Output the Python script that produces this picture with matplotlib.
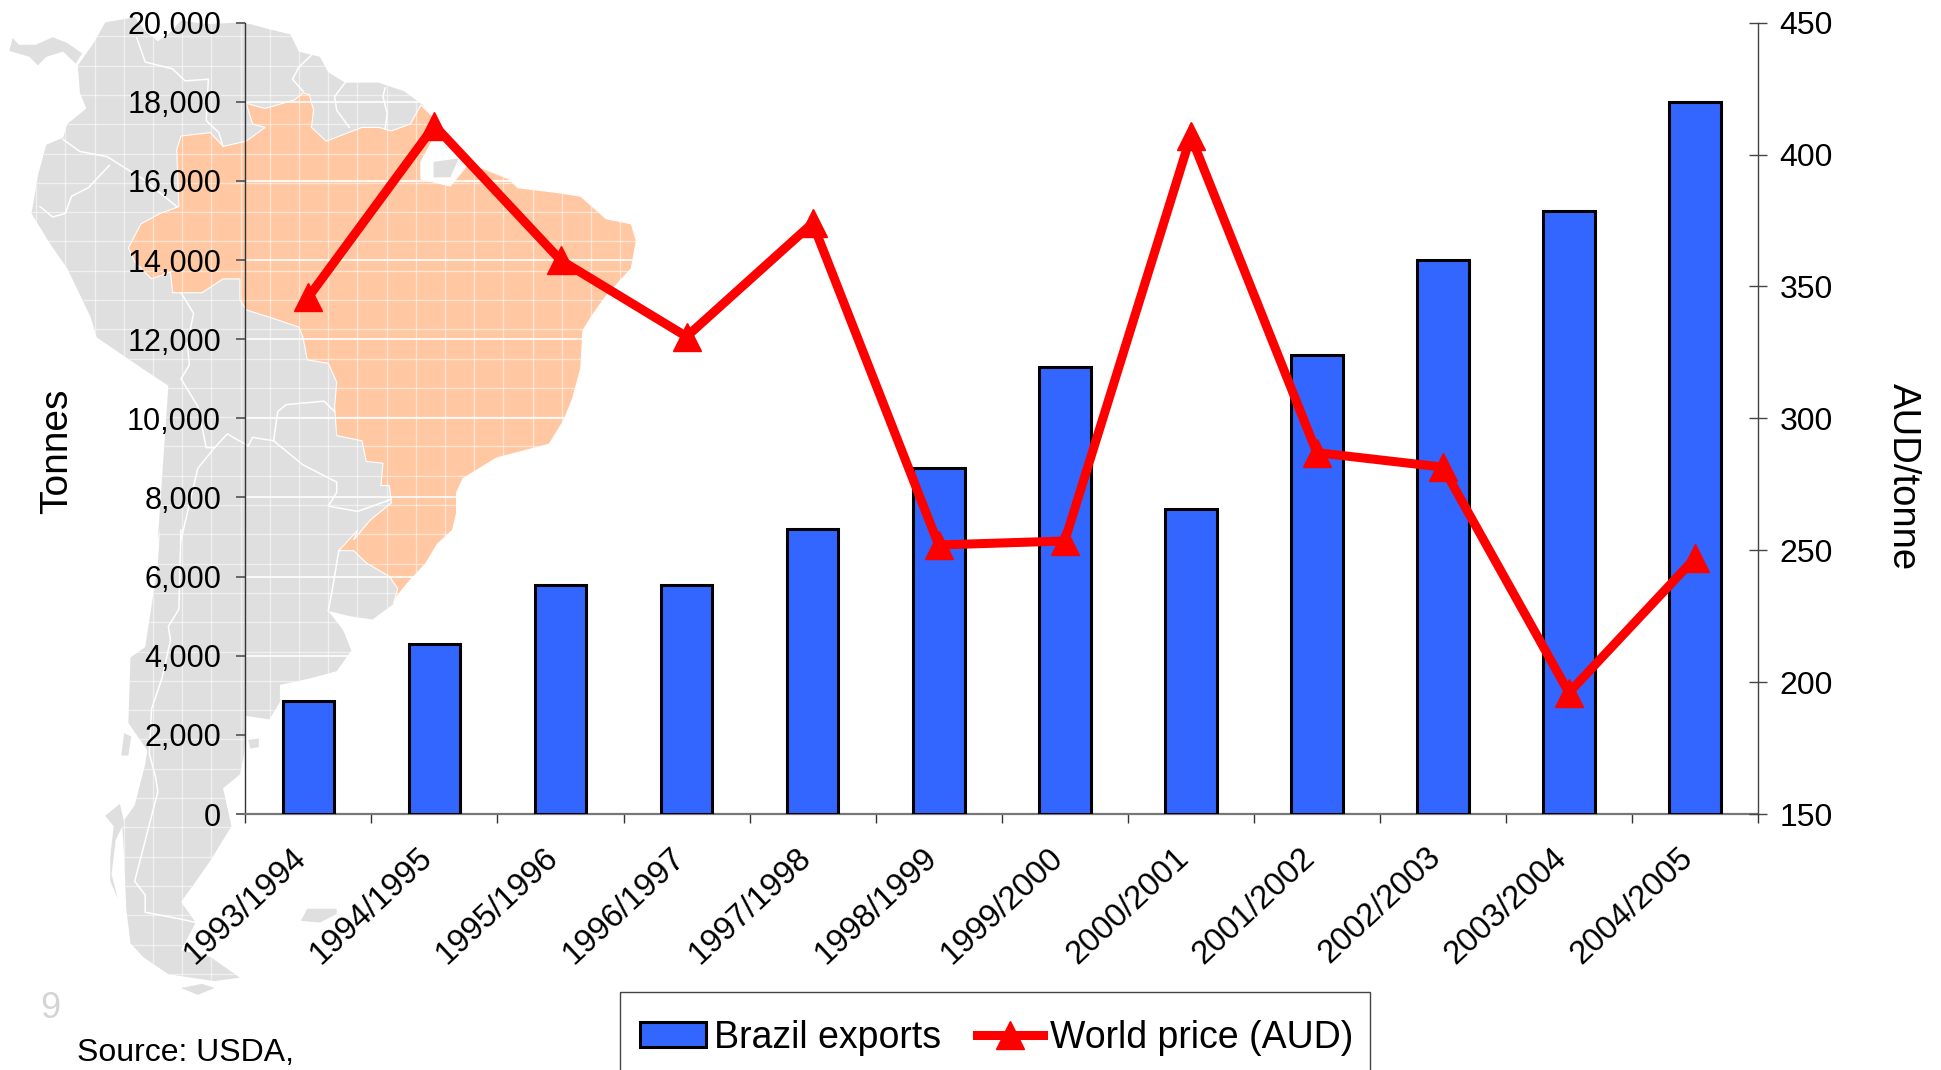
import numpy as np
import matplotlib
matplotlib.use("Agg")
import matplotlib.pyplot as plt
from matplotlib.patches import Polygon, Rectangle
from matplotlib.collections import LineCollection
from matplotlib.transforms import ScaledTranslation

plt.rcParams['font.family'] = ['Liberation Sans', 'DejaVu Sans']

seasons = ["1993/1994", "1994/1995", "1995/1996", "1996/1997", "1997/1998", "1998/1999",
           "1999/2000", "2000/2001", "2001/2002", "2002/2003", "2003/2004", "2004/2005"]
exports = [2850, 4300, 5800, 5800, 7200, 8750, 11300, 7700, 11600, 14000, 15250, 18000]
price = [346, 411, 360, 331, 374, 252, 253.5, 407, 287, 281.5, 196, 247]

# map outlines (u = upper half, l = lower half)
land_u = [(185,190),(225,120),(250,65),(320,50),(345,90),(375,120),(400,100),(430,60),(490,70),(580,65),
          (640,85),(690,100),(710,150),(760,165),(780,210),(820,240),(900,240),(960,265),(1000,300),(1030,340),
          (1040,380),(1000,470),(1000,520),(1070,540),(1110,480),(1150,490),(1210,520),(1230,545),(1330,560),
          (1380,570),(1440,635),(1500,650),(1512,700),(1500,780),(1440,860),(1405,920),(1385,960),(1380,1070),
          (1360,1160),(1340,1220),(1305,1290),(1180,1330),(1100,1390),(1085,1430),(1085,1490),(1075,1540)]
land_l = [(1040,40),(1010,100),(975,145),(945,190),(935,215),(885,260),(830,250),(780,235),(815,290),(835,350),
          (800,410),(740,430),(665,450),(665,500),(640,550),(585,540),(580,650),(570,710),(530,750),(550,860),
          (500,960),(460,1030),(430,1080),(465,1140),(430,1220),(500,1240),(570,1300),(510,1310),(400,1290),
          (340,1240),(310,1200),(300,1100),(295,950),(290,850),(320,800),(345,680),(350,640),(305,560),(310,370),
          (345,340),(375,100),(380,0)]
land_u2 = [(375,1568),(400,1120),(350,1080),(230,980),(215,920),(160,780),(120,710),(75,620),(90,510),(110,420),
           (150,400),(160,360),(205,315),(190,270)]
panama_u = [(22,148),(30,110),(45,130),(85,130),(125,108),(160,125),(195,155),(180,185),(150,150),(110,165),
            (90,190),(70,165)]
marajo_u = [(1030,470),(1090,460),(1070,515),(1030,515)]
falkland_l = [(715,1135),(730,1100),(800,1100),(800,1115),(760,1140)]
isle1_l = [(295,590),(312,600),(305,655),(288,655)]
isle2_l = [(590,610),(615,605),(615,630),(595,635)]
isle3_l = [(430,1330),(480,1318),(510,1330),(470,1350)]
isle4_l = [(250,830),(285,795),(295,850),(275,900),(265,1000),(280,1070),(262,1020),(262,950),(270,860)]

brazil_u = [(585,300),(630,315),(700,290),(720,270),(735,275),(745,320),(740,370),(775,410),(860,370),(900,370),
            (930,380),(975,360),(1000,305),(1030,340),(1040,380),(1000,470),(1000,520),(1070,540),(1110,480),
            (1150,490),(1210,520),(1230,545),(1330,560),(1380,570),(1440,635),(1500,650),(1512,700),(1500,780),
            (1440,860),(1405,920),(1385,960),(1380,1070),(1360,1160),(1340,1220),(1305,1290),(1180,1330),
            (1100,1390),(1085,1430),(1085,1490),(1075,1540)]
brazil_l = [(1040,40),(1010,100),(975,145),(945,190),(935,215),(945,170),(925,135),(870,95),(840,60),(805,60),(850,0)]
brazil_u2 = [(840,1568),(880,1510),(930,1460),(925,1410),(905,1410),(910,1345),(870,1340),(860,1280),(800,1265),
             (795,1180),(800,1110),(780,1055),(730,1045),(720,980),(710,950),(650,925),(585,900),(570,870),(570,810),
             (530,810),(480,850),(410,850),(405,790),(360,810),(320,760),(305,720),(335,650),(380,620),(425,600),
             (420,435),(430,395),(500,385),(530,425),(585,410),(630,370),(600,360)]

borders_u = [[(325,110),(345,180),(410,200),(440,235),(495,230),(490,350),(520,385),(530,425)],
             [(740,160),(710,195),(695,230),(720,265)],
             [(820,240),(795,280),(800,320),(830,370)],
             [(915,255),(910,280),(920,330),(915,375)],
             [(150,405),(190,440),(255,455),(300,490),(340,520),(420,600)],
             [(95,600),(125,630),(155,620),(170,570),(210,545),(260,480)],
             [(430,850),(460,910),(445,1000),(450,1060),(430,1100),(470,1180),(490,1300),(510,1300),(540,1260),
              (590,1295),(600,1270),(650,1280),(660,1195),(680,1175),(770,1165),(795,1195)],
             [(650,1280),(720,1350),(800,1400),(800,1430),(780,1470),(850,1485),(930,1450)],
             [(510,1300),(470,1360),(430,1568)]]
borders_l = [[(430,0),(425,230),(400,280),(405,320),(385,430),(360,520),(355,650),(370,720),(375,760),(320,1020),
              (345,1060),(345,1110),(430,1130),(465,1140)],
             [(805,60),(790,170),(780,235)]]


def upper(pts):
    return [(x/2.376, y/2.904) for x, y in pts]


def lower(pts):
    return [(x/2.376, 530+y/2.904) for x, y in pts]


fig = plt.figure(figsize=(19.41, 10.70), dpi=100)

# background layer in pixel coordinates
bg = fig.add_axes([0, 0, 1, 1], zorder=0)
bg.set_xlim(0, 1941)
bg.set_ylim(1070, 0)
bg.axis("off")

grey = "#dfdfdf"
land = Polygon(upper(land_u)+lower(land_l)+upper(land_u2), closed=True, fc=grey, ec="none")
bg.add_patch(land)
for shape in [upper(panama_u), upper(marajo_u), lower(falkland_l), lower(isle1_l), lower(isle2_l),
              lower(isle3_l), lower(isle4_l)]:
    bg.add_patch(Polygon(shape, closed=True, fc=grey, ec="none"))
brazil = Polygon(upper(brazil_u)+lower(brazil_l)+upper(brazil_u2), closed=True, fc="#ffc8a2", ec="white", lw=0.8)
bg.add_patch(brazil)
for b in borders_u:
    bg.plot(*zip(*upper(b)), color="white", lw=1.1)
for b in borders_l:
    bg.plot(*zip(*lower(b)), color="white", lw=1.1)

# graticule over the map, only inside the land shape
segs = [[(x, 0), (x, 1070)] for x in np.arange(7, 700, 29.2)]
segs += [[(0, y), (700, y)] for y in np.arange(7, 1070, 29.3)]
lc = LineCollection(segs, colors="white", linewidths=0.9, alpha=0.55)
bg.add_collection(lc)
lc.set_clip_path(land)

bg.text(50, 1008, "9", fontsize=26, color="#d4d4d4", ha="center", va="center")
bg.text(77, 1053, "Source: USDA,", fontsize=23, color="black", ha="left", va="center")
bg.add_patch(Rectangle((619.5, 992), 750, 120, fill=False, ec="#444444", lw=1))

# chart
x = np.arange(len(seasons))
ax = fig.add_axes([245.4/1941, 1-814/1070, (1758-245.4)/1941, (814-22.7)/1070], zorder=1)
ax.patch.set_alpha(0)
bars = ax.bar(x, exports, width=0.41, color="#3366ff", edgecolor="black", linewidth=2.2,
              label="Brazil exports", zorder=3)
ax.set_xlim(-0.5, 11.5)
ax.set_ylim(0, 20000)
ax.set_yticks(np.arange(0, 20001, 2000))
ax.set_yticklabels([f"{v:,}" for v in range(0, 20001, 2000)])
ax.yaxis.grid(True, color="white", lw=1.2, zorder=1)
ax.set_axisbelow(True)
ax.set_xticks(x)
ax.set_xticklabels(seasons, rotation=43, ha="right", va="top", rotation_mode="anchor")
ax.set_xticks(np.arange(-0.5, 12, 1), minor=True)
ax.tick_params(axis="x", which="major", length=0, labelsize=23.5, pad=20)
ax.tick_params(axis="x", which="minor", length=6.5, width=1, color="#333333")
ax.tick_params(axis="y", length=6.5, width=1.4, color="#666666", labelsize=22, pad=11)
shift = ScaledTranslation(-17/100, 0, fig.dpi_scale_trans)
for lab in ax.get_xticklabels():
    lab.set_transform(lab.get_transform() + shift)
for s in ["top", "right"]:
    ax.spines[s].set_visible(False)
ax.spines["left"].set_color("#333333")
ax.spines["left"].set_linewidth(1)
ax.spines["bottom"].set_color("#777777")
ax.spines["bottom"].set_linewidth(1.6)
ax.set_ylabel("Tonnes", fontsize=28)
ax.yaxis.set_label_coords(-0.1126, 0.458)

ax2 = ax.twinx()
ax2.patch.set_alpha(0)
line, = ax2.plot(x, price, color="#ff0000", lw=6.5, marker="^", markersize=20, label="World price (AUD)",
                 solid_joinstyle="miter", zorder=5)
ax2.set_ylim(150, 450)
ax2.set_yticks(np.arange(150, 451, 50))
ax2.tick_params(axis="y", direction="inout", length=13, width=1, color="#444444", labelsize=23, pad=9)
for s in ["top", "left", "bottom"]:
    ax2.spines[s].set_visible(False)
ax2.spines["right"].set_color("#444444")
ax2.spines["right"].set_linewidth(1)
ax2.set_ylabel("AUD/tonne", fontsize=27.5, rotation=270, va="center")
ax2.yaxis.set_label_coords(1.096, 0.426)

leg = ax2.legend([bars, line], ["Brazil exports", "World price (AUD)"], ncol=2, frameon=False, fontsize=27,
                 loc="center left", bbox_to_anchor=(640/1941, 1-1038/1070), bbox_transform=fig.transFigure,
                 borderpad=0, borderaxespad=0, handlelength=1.77, handleheight=0.65, handletextpad=0.2,
                 columnspacing=0.95)

plt.savefig("out.png", dpi=100)
